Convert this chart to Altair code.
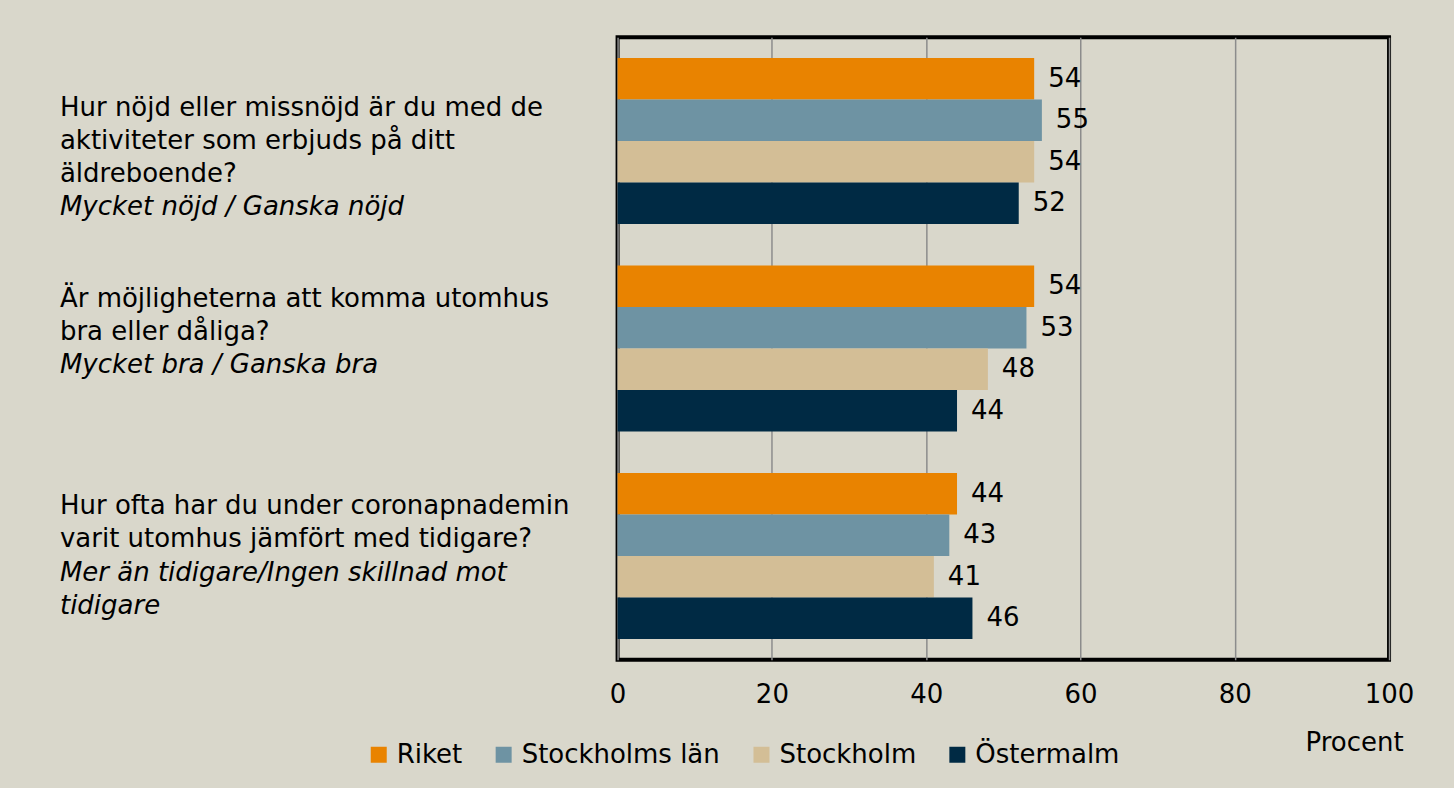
import altair as alt
import pandas as pd

questions = ["q1", "q2", "q3"]
series = ["Riket", "Stockholms län", "Stockholm", "Östermalm"]
colors = ["#E98300", "#6E93A3", "#D3BE96", "#002A44"]

riket = [54, 54, 44]
stockholms_lan = [55, 53, 43]
stockholm = [54, 48, 41]
ostermalm = [52, 44, 46]

# question label lines: (question, half-line slot, text, italic)
line_question = ["q1", "q1", "q1", "q1",
                 "q2", "q2", "q2",
                 "q3", "q3", "q3", "q3"]
line_slot = [2, 4, 6, 8,
             1, 3, 5,
             1, 3, 5, 7]
line_text = ["Hur nöjd eller missnöjd är du med de", "aktiviteter som erbjuds på ditt",
             "äldreboende?", "Mycket nöjd / Ganska nöjd",
             "Är möjligheterna att komma utomhus", "bra eller dåliga?", "Mycket bra / Ganska bra",
             "Hur ofta har du under coronapnademin", "varit utomhus jämfört med tidigare?",
             "Mer än tidigare/Ingen skillnad mot", "tidigare"]
line_italic = [False, False, False, True,
               False, False, True,
               False, False, True, True]
slots = list(range(9))

rows = []
for i, q in enumerate(questions):
    for s, vals in zip(series, [riket, stockholms_lan, stockholm, ostermalm]):
        rows.append({"question": q, "series": s, "value": vals[i]})
df = pd.DataFrame(rows)

tdf = pd.DataFrame({"question": line_question, "slot": line_slot,
                    "text": line_text, "italic": line_italic})

FONT = "DejaVu Sans"
FS = 26

yscale = alt.Scale(domain=questions, paddingInner=0.2, paddingOuter=0.1)

bars = alt.Chart(df).mark_bar().encode(
    x=alt.X("value:Q",
            scale=alt.Scale(domain=[0, 100], nice=False),
            axis=alt.Axis(values=[0, 20, 40, 60, 80, 100], domain=False, ticks=False,
                          grid=True, gridColor="#8C8C8C", gridWidth=1.5,
                          labelFontSize=FS, labelFont=FONT, labelColor="black",
                          labelPadding=22, labelFlush=False,
                          title="Procent", titleFont=FONT, titleFontSize=FS,
                          titleFontWeight="normal", titleColor="black",
                          titleX=737, titleY=83, titleAlign="center", titleBaseline="middle")),
    y=alt.Y("question:N", scale=yscale, axis=None),
    yOffset=alt.YOffset("series:N", scale=alt.Scale(domain=series, paddingInner=0.0, paddingOuter=0.0)),
    color=alt.Color("series:N",
                    scale=alt.Scale(domain=series, range=colors),
                    legend=alt.Legend(title=None, orient="none", direction="horizontal",
                                      legendX=-252, legendY=705,
                                      symbolType="square", symbolSize=256,
                                      symbolStrokeWidth=0, symbolOpacity=1,
                                      labelFont=FONT, labelFontSize=FS, labelColor="black",
                                      labelLimit=400, columnPadding=28, labelOffset=5)),
)

labels = alt.Chart(df).mark_text(align="left", baseline="middle", dx=14,
                                 font=FONT, fontSize=FS, color="black").encode(
    x="value:Q",
    y=alt.Y("question:N", scale=yscale, axis=None),
    yOffset=alt.YOffset("series:N", scale=alt.Scale(domain=series, paddingInner=0.0, paddingOuter=0.0)),
    text="value:Q",
)

bar_layer = alt.layer(bars, labels)

slot_scale = alt.Scale(type="point", domain=slots, padding=1.03)

qtext = alt.Chart(tdf).transform_filter("!datum.italic").mark_text(
    align="left", baseline="middle", font=FONT, fontSize=FS, color="black").encode(
    x=alt.value(-558),
    y=alt.Y("question:N", scale=yscale, axis=None),
    yOffset=alt.YOffset("slot:O", scale=slot_scale),
    text="text:N",
)
qital = alt.Chart(tdf).transform_filter("datum.italic").mark_text(
    align="left", baseline="middle", font=FONT, fontSize=FS, fontStyle="italic",
    color="black").encode(
    x=alt.value(-558),
    y=alt.Y("question:N", scale=yscale, axis=None),
    yOffset=alt.YOffset("slot:O", scale=slot_scale),
    text="text:N",
)
text_layer = alt.layer(qtext, qital)

chart = alt.layer(bar_layer, text_layer).resolve_scale(yOffset="independent").properties(
    width=772, height=623,
    background="#D9D7CB",
    padding={"left": 60, "top": 37, "right": 40, "bottom": 20},
).configure_view(stroke="black", strokeWidth=4)

chart.save("out.html", embed_options={"renderer": "svg", "actions": False})
